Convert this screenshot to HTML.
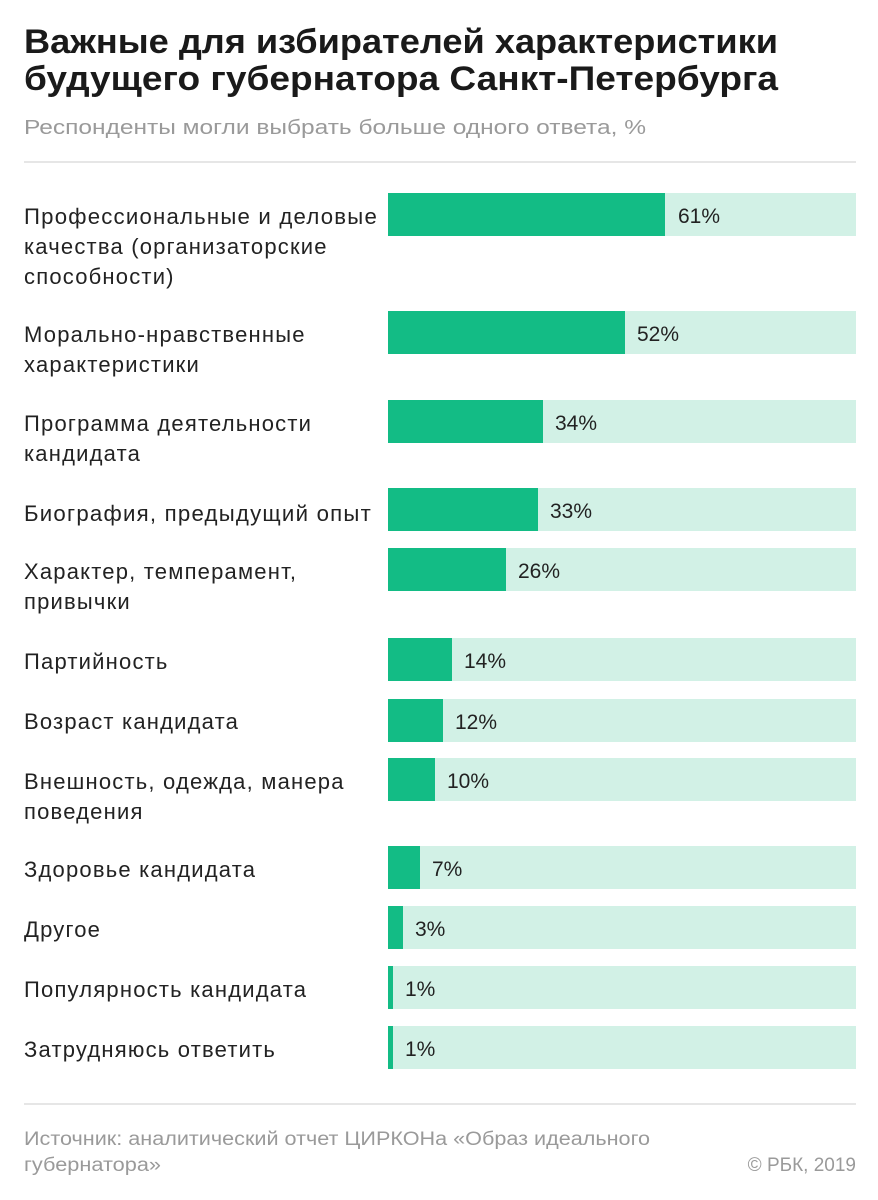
<!DOCTYPE html>
<html><head><meta charset="utf-8"><style>
html,body{margin:0;padding:0;background:#fff;}
svg{display:block;}
text{font-family:"Liberation Sans",sans-serif;}
</style></head><body>
<svg width="878" height="1200" viewBox="0 0 878 1200" xmlns="http://www.w3.org/2000/svg">
<rect width="878" height="1200" fill="#fff"/>
<g font-weight="bold" font-size="34" fill="#1a1a1a">
<text x="24" y="53" textLength="754" lengthAdjust="spacingAndGlyphs">Важные для избирателей характеристики</text>
<text x="24" y="90" textLength="754" lengthAdjust="spacingAndGlyphs">будущего губернатора Санкт-Петербурга</text>
</g>
<text x="24" y="134" font-size="20" fill="#9a9a9a" textLength="622" lengthAdjust="spacingAndGlyphs">Респонденты могли выбрать больше одного ответа, %</text>
<rect x="24" y="161" width="832" height="2" fill="#e6e6e6"/>
<rect x="24" y="1103" width="832" height="2" fill="#e6e6e6"/>
<g fill="#d2f1e6">
<rect x="388" y="193" width="468" height="43"/>
<rect x="388" y="311" width="468" height="43"/>
<rect x="388" y="400" width="468" height="43"/>
<rect x="388" y="488" width="468" height="43"/>
<rect x="388" y="548" width="468" height="43"/>
<rect x="388" y="638" width="468" height="43"/>
<rect x="388" y="699" width="468" height="43"/>
<rect x="388" y="758" width="468" height="43"/>
<rect x="388" y="846" width="468" height="43"/>
<rect x="388" y="906" width="468" height="43"/>
<rect x="388" y="966" width="468" height="43"/>
<rect x="388" y="1026" width="468" height="43"/>
</g>
<g fill="#13bc85">
<rect x="388" y="193" width="277" height="43"/>
<rect x="388" y="311" width="237" height="43"/>
<rect x="388" y="400" width="155" height="43"/>
<rect x="388" y="488" width="150" height="43"/>
<rect x="388" y="548" width="118" height="43"/>
<rect x="388" y="638" width="64" height="43"/>
<rect x="388" y="699" width="55" height="43"/>
<rect x="388" y="758" width="47" height="43"/>
<rect x="388" y="846" width="32" height="43"/>
<rect x="388" y="906" width="15" height="43"/>
<rect x="388" y="966" width="5" height="43"/>
<rect x="388" y="1026" width="5" height="43"/>
</g>
<g font-size="21" fill="#222">
<text x="678" y="223">61%</text>
<text x="637" y="341">52%</text>
<text x="555" y="430">34%</text>
<text x="550" y="518">33%</text>
<text x="518" y="578">26%</text>
<text x="464" y="668">14%</text>
<text x="455" y="729">12%</text>
<text x="447" y="788">10%</text>
<text x="432" y="876">7%</text>
<text x="415" y="936">3%</text>
<text x="405" y="996">1%</text>
<text x="405" y="1056">1%</text>
</g>
<g font-size="22" fill="#222" letter-spacing="1.2">
<text x="24" y="224" textLength="354" lengthAdjust="spacingAndGlyphs">Профессиональные и деловые</text>
<text x="24" y="254">качества (организаторские</text>
<text x="24" y="284">способности)</text>
<text x="24" y="342">Морально-нравственные</text>
<text x="24" y="372">характеристики</text>
<text x="24" y="431">Программа деятельности</text>
<text x="24" y="461">кандидата</text>
<text x="24" y="521" textLength="348" lengthAdjust="spacingAndGlyphs">Биография, предыдущий опыт</text>
<text x="24" y="579">Характер, темперамент,</text>
<text x="24" y="609">привычки</text>
<text x="24" y="669">Партийность</text>
<text x="24" y="729">Возраст кандидата</text>
<text x="24" y="789">Внешность, одежда, манера</text>
<text x="24" y="819">поведения</text>
<text x="24" y="877">Здоровье кандидата</text>
<text x="24" y="937">Другое</text>
<text x="24" y="997">Популярность кандидата</text>
<text x="24" y="1057">Затрудняюсь ответить</text>
</g>
<g font-size="19" fill="#9a9a9a">
<text x="24" y="1145" textLength="626" lengthAdjust="spacingAndGlyphs">Источник: аналитический отчет ЦИРКОНа «Образ идеального</text>
<text x="24" y="1171" textLength="137" lengthAdjust="spacingAndGlyphs">губернатора»</text>
<text x="856" y="1171" text-anchor="end">© РБК, 2019</text>
</g>
</svg>
</body></html>
